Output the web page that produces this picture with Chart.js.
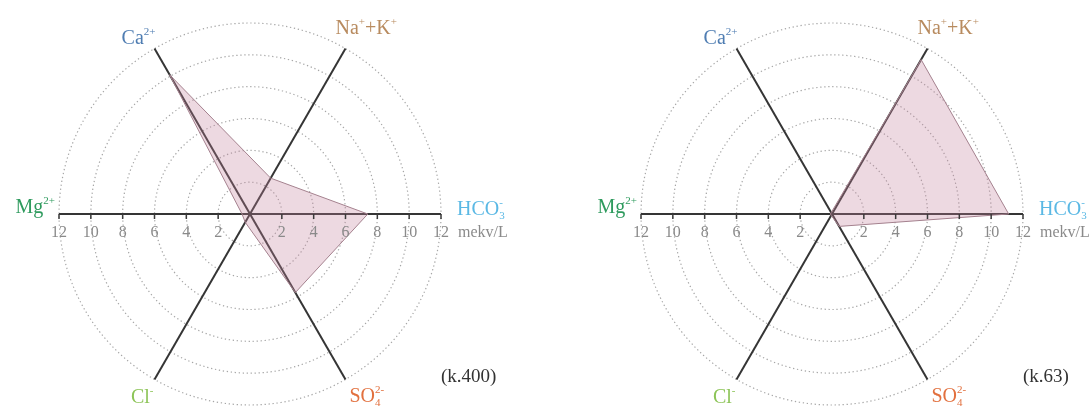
<!DOCTYPE html>
<html>
<head>
<meta charset="utf-8">
<script src="https://cdn.jsdelivr.net/npm/chart.js@4.4.1/dist/chart.umd.min.js"></script>
<style>
  html, body { margin: 0; padding: 0; background: #fff; }
  .panel { position: absolute; top: 0; width: 546px; height: 407px; }
</style>
</head>
<body>
<div class="panel" style="left:0"><canvas id="chart-k400" width="546" height="407"></canvas></div>
<div class="panel" style="left:546px"><canvas id="chart-k63" width="546" height="407"></canvas></div>
<script>
// axes, clockwise starting from the right-hand HCO3 axis
const ions = ["HCO3-", "SO4 2-", "Cl-", "Mg2+", "Ca2+", "Na+ + K+"];
const k400Values = [7.4, 5.7, 0.6, 0.5, 10.1, 2.6];
const k63Values = [11.1, 0.9, 0.1, 0.1, 0.1, 11.2];
const tickValues = [2, 4, 6, 8, 10, 12];
const unitLabel = "mekv/L";

// how each ion name is typeset (sup / sub parts)
const ionParts = [
  [{ t: "HCO" }, { t: "3", s: "sub", keep: true }, { t: "-", s: "sup" }],
  [{ t: "SO" }, { t: "4", s: "sub", keep: true }, { t: "2-", s: "sup" }],
  [{ t: "Cl" }, { t: "-", s: "sup" }],
  [{ t: "Mg" }, { t: "2+", s: "sup" }],
  [{ t: "Ca" }, { t: "2+", s: "sup" }],
  [{ t: "Na" }, { t: "+", s: "sup" }, { t: "+K" }, { t: "+", s: "sup" }]
];
const ionColors = ["#5ab8e4", "#e2703e", "#8cc457", "#2f9b5e", "#4f7db2", "#b88b5f"];
// label offset from the end of each axis line
const labelOffsets = [
  { dx: 16, dy: 1, align: "left" },
  { dx: 4, dy: 23, align: "left" },
  { dx: -1, dy: 24, align: "right" },
  { dx: -4, dy: -1, align: "right" },
  { dx: 1, dy: -5, align: "right" },
  { dx: -10, dy: -15, align: "left" }
];

const FONT = '"Liberation Serif", "Times New Roman", serif';

function drawRich(ctx, parts, x, y, align) {
  let total = 0;
  let pending = 0;
  parts.forEach((p) => {
    ctx.font = (p.s ? 11 : 20) + "px " + FONT;
    p.w = ctx.measureText(p.t).width;
    if (p.keep) {
      pending = p.w;
    } else {
      total += Math.max(p.w, pending);
      pending = 0;
    }
  });
  let sx = align === "right" ? x - total : x;
  ctx.textAlign = "left";
  parts.forEach((p) => {
    ctx.font = (p.s ? 11 : 20) + "px " + FONT;
    const dy = p.s === "sup" ? -9 : p.s === "sub" ? 4 : 0;
    ctx.fillText(p.t, sx, y + dy);
    if (!p.keep) sx += p.w;
  });
}

const axisDecor = {
  id: "axisDecor",
  afterDraw(chart, args, opts) {
    const ctx = chart.ctx;
    const s = chart.scales.r;
    const cx = s.xCenter;
    const cy = s.yCenter;
    ctx.save();

    // tick marks + numbers along the horizontal axis
    ctx.strokeStyle = "#3a3a3a";
    ctx.lineWidth = 1.5;
    ctx.fillStyle = "#8a8a8a";
    ctx.font = "16px " + FONT;
    ctx.textAlign = "center";
    tickValues.forEach((v) => {
      const d = s.getDistanceFromCenterForValue(v);
      [-1, 1].forEach((sgn) => {
        const x = cx + sgn * d;
        ctx.beginPath();
        ctx.moveTo(x, cy);
        ctx.lineTo(x, cy + 5);
        ctx.stroke();
        ctx.fillText(String(v), x, cy + 23);
      });
    });
    ctx.textAlign = "left";
    ctx.font = "16px " + FONT;
    ctx.fillText(unitLabel, cx + s.drawingArea + 17, cy + 23);

    // ion names at the end of each axis
    ions.forEach((name, i) => {
      const p = s.getPointPosition(i, s.drawingArea);
      const o = labelOffsets[i];
      ctx.fillStyle = ionColors[i];
      drawRich(ctx, ionParts[i], p.x + o.dx, p.y + o.dy, o.align);
    });

    // sample name
    ctx.fillStyle = "#333";
    ctx.font = "19px " + FONT;
    ctx.textAlign = "left";
    ctx.fillText(opts.sample, cx + 191, 382);
    ctx.restore();
  }
};

function makeChart(canvasId, values, sample, centerX) {
  return new Chart(document.getElementById(canvasId), {
    type: "radar",
    data: {
      labels: ions,
      datasets: [{
        data: values,
        fill: true,
        backgroundColor: "rgba(196, 128, 155, 0.3)",
        borderColor: "#a4818e",
        borderWidth: 1,
        pointRadius: 0,
        tension: 0
      }]
    },
    options: {
      responsive: false,
      animation: false,
      layout: { padding: 0 },
      plugins: {
        legend: { display: false },
        tooltip: { enabled: false },
        axisDecor: { sample: sample }
      },
      scales: {
        r: {
          min: 0,
          max: 12,
          startAngle: 90,
          ticks: { display: false, stepSize: 2 },
          pointLabels: { display: false },
          grid: { circular: true, color: "#a6a6a6", lineWidth: 1.2 },
          border: { dash: [1.3, 2.7] },
          angleLines: { color: "#353535", lineWidth: 2 },
          afterFit: (scale) => {
            scale.xCenter = centerX;
            scale.yCenter = 214;
            scale.drawingArea = 191;
          }
        }
      }
    },
    plugins: [axisDecor]
  });
}

makeChart("chart-k400", k400Values, "(k.400)", 250);
makeChart("chart-k63", k63Values, "(k.63)", 286);
</script>
</body>
</html>
